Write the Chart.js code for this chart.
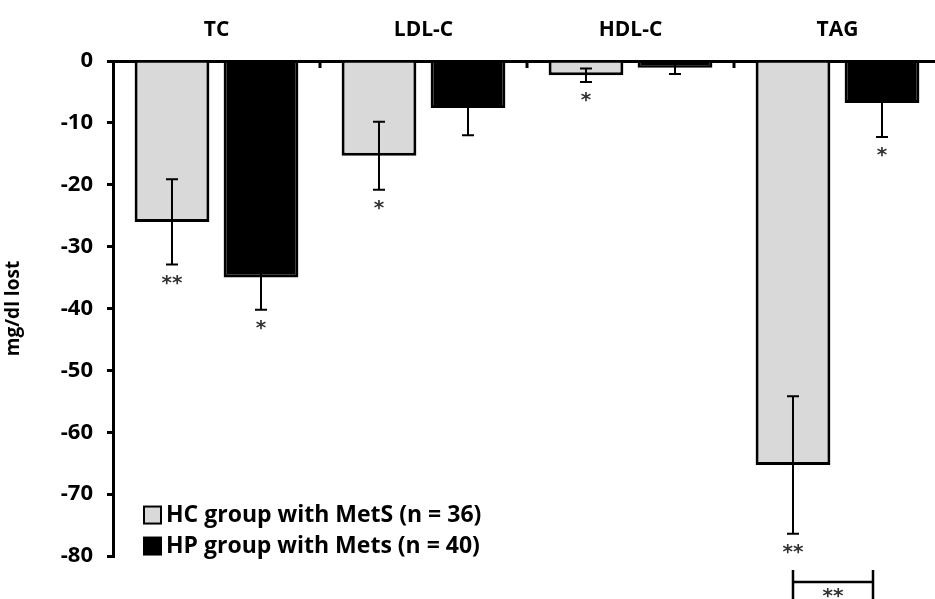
<!DOCTYPE html>
<html>
<head>
<meta charset="utf-8">
<script src="https://cdn.jsdelivr.net/npm/chart.js@4"></script>
<style>
  html, body { margin: 0; padding: 0; background: #fff; overflow: hidden; }
  #wrap { width: 943px; height: 599px; }
</style>
</head>
<body>
<div id="wrap"><canvas id="myChart"></canvas></div>
<script>
// values (mg/dl change)
const categories = ['TC', 'LDL-C', 'HDL-C', 'TAG'];
const hcLabel = 'HC group with MetS (n = 36)';
const hpLabel = 'HP group with Mets (n = 40)';
const hcMean = [-26, -15.3, -2.3, -65.3];
const hpMean = [-35, -7.6, -1.1, -6.8];
const hcErr = [6.9, 5.5, 1.1, 11.1];
const hpErr = [5.2, 4.4, 1.0, 5.5];
const hcSig = ['**', '*', '*', '**'];
const hpSig = ['*', '', '', '*'];
const yMin = -80, yMax = 0, yStep = 10;

const FONT = '"Open Sans", "Liberation Sans", sans-serif';
const grey = '#d9d9d9';

const ctx = document.getElementById('myChart');

// error bars, stars, bracket, inner category ticks, legend
const extras = {
  id: 'extras',
  afterDatasetsDraw(chart) {
    const c = chart.ctx;
    const x = chart.scales.x, y = chart.scales.y;
    const area = chart.chartArea;
    c.save();
    c.strokeStyle = '#000';
    c.fillStyle = '#000';

    // little marks under the zero line between categories
    c.lineWidth = 3;
    for (let i = 1; i < categories.length; i++) {
      const px = (x.getPixelForValue(i - 1) + x.getPixelForValue(i)) / 2;
      c.beginPath();
      c.moveTo(px, area.top);
      c.lineTo(px, area.top + 7);
      c.stroke();
    }

    const star = (txt, px, py) => {
      c.fillStyle = '#333';
      c.font = 'bold 20px "DejaVu Sans"';
      c.textAlign = 'center';
      c.textBaseline = 'top';
      c.fillText(txt, px, py);
    };

    const sets = [[hcMean, hcErr, hcSig], [hpMean, hpErr, hpSig]];
    sets.forEach((s, di) => {
      const meta = chart.getDatasetMeta(di);
      meta.data.forEach((bar, i) => {
        const top = y.getPixelForValue(s[0][i] + s[1][i]);
        const bot = y.getPixelForValue(s[0][i] - s[1][i]);
        c.lineWidth = 2;
        c.strokeStyle = '#000';
        c.beginPath();
        c.moveTo(bar.x, top); c.lineTo(bar.x, bot);
        c.moveTo(bar.x - 6, top); c.lineTo(bar.x + 6, top);
        c.moveTo(bar.x - 6, bot); c.lineTo(bar.x + 6, bot);
        c.stroke();
        if (s[2][i]) star(s[2][i], bar.x, bot + 9);
      });
    });

    // bracket under TAG
    const g = chart.getDatasetMeta(0).data[3];
    const b = chart.getDatasetMeta(1).data[3];
    const by = y.getPixelForValue(-84.2);
    const bx1 = g.x, bx2 = b.x - 9;
    c.lineWidth = 2.5;
    c.strokeStyle = '#000';
    c.beginPath();
    c.moveTo(bx1, by - 12); c.lineTo(bx1, by + 20);
    c.moveTo(bx2, by - 12); c.lineTo(bx2, by + 20);
    c.moveTo(bx1, by); c.lineTo(bx2, by);
    c.stroke();
    star('**', (bx1 + bx2) / 2, by + 5);

    // legend inside the plot, bottom left
    const items = [[grey, hcLabel], ['#000', hpLabel]];
    const lx = area.left + 31;
    const ly0 = y.getPixelForValue(-73.3);
    items.forEach((it, k) => {
      const cy = ly0 + k * 31;
      c.fillStyle = it[0];
      c.fillRect(lx, cy - 8, 17, 17);
      c.lineWidth = 2;
      c.strokeStyle = '#000';
      c.strokeRect(lx, cy - 8, 17, 17);
      c.fillStyle = '#000';
      c.font = 'bold 23px ' + FONT;
      c.textAlign = 'left';
      c.textBaseline = 'middle';
      c.fillText(it[1], lx + 22, cy + 1);
    });
    c.restore();
  }
};

new Chart(ctx, {
  type: 'bar',
  data: {
    labels: categories,
    datasets: [{
      label: hcLabel,
      data: hcMean,
      backgroundColor: grey,
      borderColor: '#000',
      borderWidth: 3
    }, {
      label: hpLabel,
      data: hpMean,
      backgroundColor: '#000',
      borderColor: '#000',
      borderWidth: 3
    }]
  },
  options: {
    responsive: true,
    maintainAspectRatio: false,
    animation: false,
    categoryPercentage: 0.86,
    barPercentage: 0.84,
    layout: { padding: { left: 0, right: 2, top: 0, bottom: 43 } },
    plugins: {
      legend: { display: false },
      tooltip: { enabled: false }
    },
    scales: {
      x: {
        position: 'top',
        grid: { display: false, drawTicks: false },
        border: { display: true, color: '#000', width: 3 },
        ticks: {
          color: '#000',
          font: { family: FONT, size: 21, weight: 'bold' },
          padding: 18
        },
        afterFit(scale) { scale.height = 61; }
      },
      y: {
        min: yMin,
        max: yMax,
        grid: {
          drawOnChartArea: false,
          drawTicks: true,
          tickLength: 6,
          color: '#000',
          lineWidth: 3
        },
        border: { display: true, color: '#000', width: 3 },
        ticks: {
          stepSize: yStep,
          color: '#000',
          padding: 14,
          font: { family: FONT, size: 22, weight: 'bold' }
        },
        title: {
          display: true,
          text: 'mg/dl lost',
          color: '#000',
          font: { family: FONT, size: 19, weight: 'bold' },
          padding: { top: 2, bottom: 0 }
        },
        afterFit(scale) { scale.width = 113; }
      }
    }
  },
  plugins: [extras]
});
</script>
</body>
</html>
